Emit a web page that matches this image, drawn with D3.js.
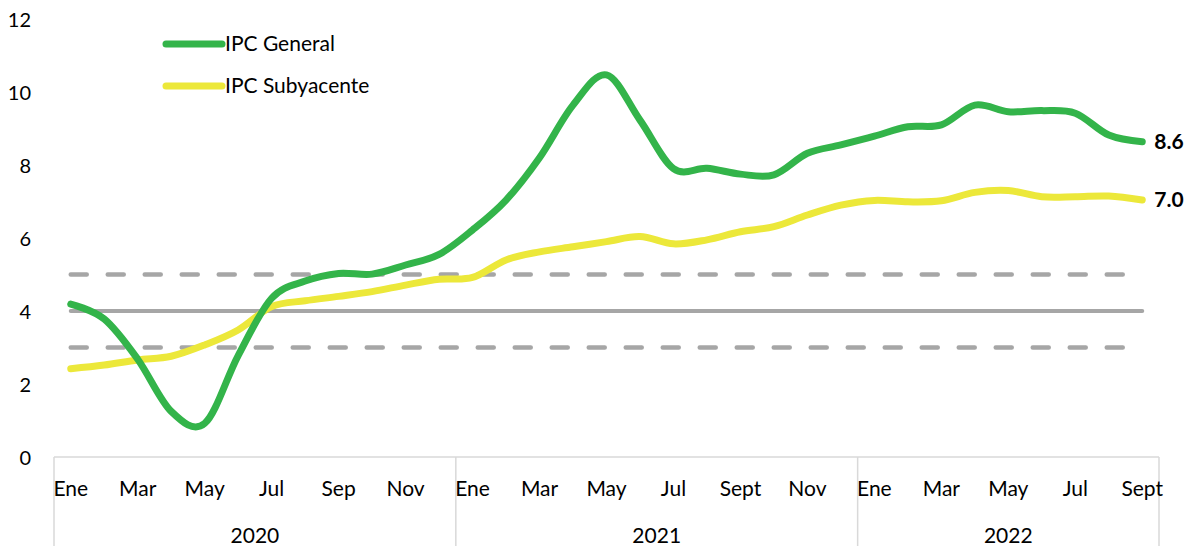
<!DOCTYPE html>
<html>
<head>
<meta charset="utf-8">
<script src="https://cdn.jsdelivr.net/npm/d3@7"></script>
<style>
  body { margin: 0; background: #fff; }
  text { font-family: Lato, "Open Sans", sans-serif; fill: #000; }
</style>
</head>
<body>
<div id="chart"></div>
<script>
var width = 1189,
    height = 546;

// categorías mensuales ene-2020 .. sep-2022
var months = ["Ene","Feb","Mar","Abr","May","Jun","Jul","Ago","Sep","Oct","Nov","Dic",
              "Ene","Feb","Mar","Abr","May","Jun","Jul","Ago","Sept","Oct","Nov","Dic",
              "Ene","Feb","Mar","Abr","May","Jun","Jul","Ago","Sept"];
var years = ["2020", "2021", "2022"];
var yearSizes = [12, 12, 9];

var ipcGeneral = [4.19, 3.78, 2.68, 1.25, 0.92, 2.78, 4.35, 4.82, 5.03, 5.01, 5.26, 5.55,
                  6.22, 7.04, 8.2, 9.64, 10.47, 9.23, 7.9, 7.91, 7.75, 7.73, 8.32, 8.55,
                  8.79, 9.05, 9.1, 9.64, 9.46, 9.49, 9.42, 8.82, 8.64];
var ipcSubyacente = [2.42, 2.52, 2.66, 2.76, 3.07, 3.48, 4.12, 4.28, 4.4, 4.53, 4.71, 4.87,
                     4.92, 5.4, 5.62, 5.76, 5.9, 6.04, 5.84, 5.95, 6.17, 6.31, 6.63, 6.9,
                     7.03, 6.99, 7.02, 7.25, 7.3, 7.13, 7.13, 7.15, 7.04];
var meta = 4, rangoInf = 3, rangoSup = 5;
var yTicks = [0, 2, 4, 6, 8, 10, 12];

var x = d3.scalePoint()
    .domain(d3.range(months.length))
    .range([54, 1159])
    .padding(0.5);

var y = d3.scaleLinear()
    .domain([0, 12])
    .range([457, 19]);

var svg = d3.select("#chart").append("svg")
    .attr("width", width)
    .attr("height", height);

// eje y (solo etiquetas)
svg.append("g")
    .attr("transform", "translate(31,0)")
    .call(d3.axisLeft(y).tickValues(yTicks).tickSize(0).tickPadding(0))
    .call(function(g) { g.select(".domain").remove(); })
    .selectAll("text")
      .style("font-size", "20px")
      .attr("dy", "0.35em");

// eje x con dos niveles
var step = x.step();
svg.append("line")
    .attr("x1", 54).attr("x2", 1159)
    .attr("y1", 457).attr("y2", 457)
    .attr("stroke", "#d9d9d9").attr("stroke-width", 1.5);

var bounds = [0];
yearSizes.forEach(function(n, i) { bounds.push(bounds[i] + n); });

svg.selectAll(".sep")
    .data(bounds)
  .enter().append("line")
    .attr("class", "sep")
    .attr("x1", function(d) { return 54 + d * step; })
    .attr("x2", function(d) { return 54 + d * step; })
    .attr("y1", 457).attr("y2", 546)
    .attr("stroke", "#d9d9d9").attr("stroke-width", 1.5);

svg.selectAll(".month")
    .data(months.map(function(m, i) { return {m: m, i: i}; }).filter(function(d) { return d.i % 2 === 0; }))
  .enter().append("text")
    .attr("class", "month")
    .attr("x", function(d) { return x(d.i); })
    .attr("y", 496)
    .attr("text-anchor", "middle")
    .style("font-size", "21px")
    .text(function(d) { return d.m; });

svg.selectAll(".year")
    .data(years)
  .enter().append("text")
    .attr("class", "year")
    .attr("x", function(d, i) { return 54 + (bounds[i] + bounds[i + 1]) / 2 * step; })
    .attr("y", 543)
    .attr("text-anchor", "middle")
    .style("font-size", "21px")
    .text(function(d) { return d; });

// meta de inflación y rango
var flat = function(v) { return months.map(function() { return v; }); };
var line = d3.line()
    .x(function(d, i) { return x(i); })
    .y(function(d) { return y(d); });

svg.append("path")
    .datum(flat(meta))
    .attr("d", line)
    .attr("fill", "none")
    .attr("stroke", "#a6a6a6")
    .attr("stroke-width", 4)
    .attr("stroke-linecap", "round");

[rangoInf, rangoSup].forEach(function(v) {
  svg.append("path")
      .datum(flat(v))
      .attr("d", line)
      .attr("fill", "none")
      .attr("stroke", "#a6a6a6")
      .attr("stroke-width", 4.5)
      .attr("stroke-linecap", "round")
      .attr("stroke-dasharray", "16,21");
});

// series suavizadas
var smooth = d3.line()
    .x(function(d, i) { return x(i); })
    .y(function(d) { return y(d); })
    .curve(d3.curveCatmullRom.alpha(0));

var series = [
  {name: "IPC Subyacente", values: ipcSubyacente, color: "#ece83a"},
  {name: "IPC General", values: ipcGeneral, color: "#33b44a"}
];

svg.selectAll(".serie")
    .data(series)
  .enter().append("path")
    .attr("class", "serie")
    .attr("d", function(d) { return smooth(d.values); })
    .attr("fill", "none")
    .attr("stroke", function(d) { return d.color; })
    .attr("stroke-width", 7)
    .attr("stroke-linecap", "round")
    .attr("stroke-linejoin", "round");

// etiquetas del último dato
svg.selectAll(".lastlabel")
    .data(series)
  .enter().append("text")
    .attr("class", "lastlabel")
    .attr("x", x(months.length - 1) + 12)
    .attr("y", function(d) { return y(d.values[d.values.length - 1]); })
    .attr("dy", "0.35em")
    .style("font-size", "21px")
    .style("font-weight", "bold")
    .text(function(d) { return d.values[d.values.length - 1].toFixed(1); });

// leyenda
var legend = svg.selectAll(".legend")
    .data(series.slice().reverse())
  .enter().append("g")
    .attr("class", "legend")
    .attr("transform", function(d, i) { return "translate(166," + (44 + i * 42) + ")"; });

legend.append("line")
    .attr("x1", 0).attr("x2", 56)
    .attr("stroke", function(d) { return d.color; })
    .attr("stroke-width", 7)
    .attr("stroke-linecap", "round");

legend.append("text")
    .attr("x", 59)
    .attr("dy", "0.35em")
    .style("font-size", "21px")
    .text(function(d) { return d.name; });
</script>
</body>
</html>
